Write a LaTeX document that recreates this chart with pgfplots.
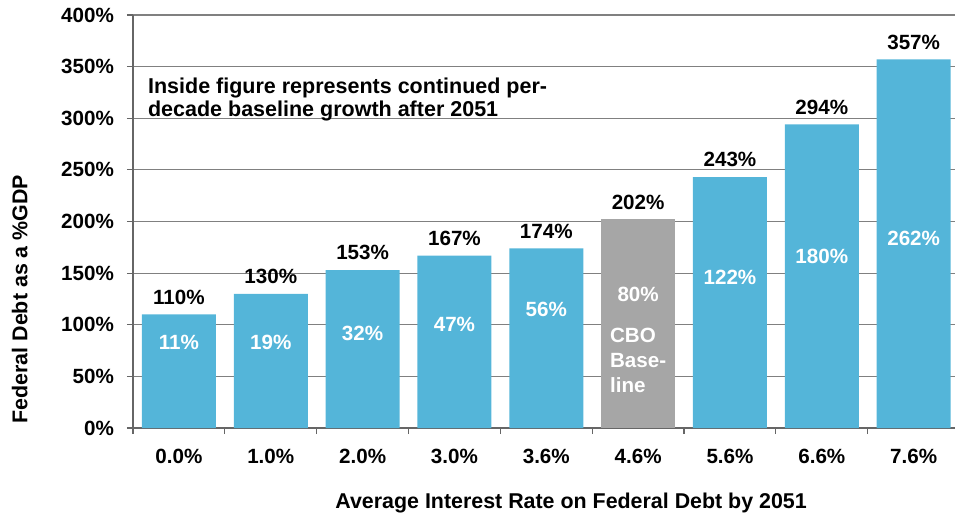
\documentclass[border=0pt]{standalone}
\usepackage{fontspec}
\setmainfont{Liberation Sans}
\usepackage{pgfplots}
\pgfplotsset{compat=1.18}
\definecolor{barblue}{HTML}{54B5D9}
\definecolor{bargrey}{HTML}{A6A6A6}
\begin{document}
\begin{tikzpicture}[font=\fontsize{10.3}{12.5}\selectfont\bfseries]
\begin{axis}[
  at={(0,0)}, anchor=south west,
  scale only axis, width=411pt, height=206.5pt,
  xmin=-0.5, xmax=8.45, ymin=0, ymax=400,
  ytick={0,50,...,400},
  yticklabel={\pgfmathprintnumber{\tick}\%},
  /pgf/number format/assume math mode=true,
  ymajorgrids, grid style={draw=black!50, line width=0.6pt},
  axis x line*=bottom, axis y line*=left,
  axis line style={draw=black!60, line width=0.9pt},
  xtick={0,...,8},
  xticklabels={0.0\%,1.0\%,2.0\%,3.0\%,3.6\%,4.6\%,5.6\%,6.6\%,7.6\%},
  major x tick style={draw=none},
  minor xtick={-0.5,0.5,...,8.5},
  minor tick length=3pt, major tick length=3pt,
  tick style={draw=black!60, line width=0.6pt},
  tick align=outside,
  xticklabel style={yshift=-4pt},
  yticklabel style={xshift=-3pt},
  xlabel={Average Interest Rate on Federal Debt by 2051},
  xlabel style={at={(ticklabel cs:0.533)}, yshift=-8pt, font=\fontsize{10.7}{12.5}\selectfont\bfseries},
  ylabel={Federal Debt as a \%GDP},
  ylabel style={at={(ticklabel cs:0.312)}, yshift=10pt, font=\fontsize{10.7}{12.5}\selectfont\bfseries},
  ybar, bar width=37pt, bar shift=0pt,
  clip=false,
  nodes near coords={\pgfmathprintnumber{\pgfplotspointmeta}\%},
  nodes near coords style={text=black, anchor=south, yshift=1.5pt},
  point meta=y,
]
\addplot[fill=barblue, draw=none] coordinates {
  (0,110) (1,130) (2,153) (3,167) (4,174) (6,243) (7,294) (8,357)};
\addplot[fill=bargrey, draw=none] coordinates {(5,202)};

\node[text=white] at (axis cs:0,83) {11\%};
\node[text=white] at (axis cs:1,83) {19\%};
\node[text=white] at (axis cs:2,92) {32\%};
\node[text=white] at (axis cs:3,100) {47\%};
\node[text=white] at (axis cs:4,115) {56\%};
\node[text=white] at (axis cs:5,129) {80\%};
\node[text=white] at (axis cs:6,146) {122\%};
\node[text=white] at (axis cs:7,166) {180\%};
\node[text=white] at (axis cs:8,184) {262\%};
\node[text=white, align=left, anchor=north west, inner sep=0pt] at (axis cs:4.69,97) {CBO\\Base-\\line};
\node[align=left, anchor=north west, inner sep=0pt, font=\fontsize{10.75}{11.5}\selectfont\bfseries] at (axis cs:-0.34,339)
  {Inside figure represents continued per-\\decade baseline growth after 2051};
\end{axis}
\pgfresetboundingbox
\useasboundingbox (-66.5pt,-44pt) rectangle (411pt,214pt);
\end{tikzpicture}
\end{document}
